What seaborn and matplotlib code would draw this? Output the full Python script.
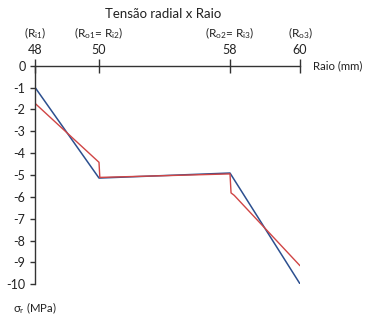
import numpy as np
import matplotlib
matplotlib.use("Agg")
import matplotlib.pyplot as plt
import seaborn as sns

# Data
raio_blue = [48, 50, 58, 60]
sigma_blue = [-0.99, -5.14, -4.91, -9.98]
raio_red = [48, 50, 50.05, 58, 58.03, 58.12, 60]
sigma_red = [-1.72, -4.42, -5.11, -4.95, -5.82, -5.93, -9.15]
xticks = [48, 50, 58, 60]
xtick_top = [r"(R$_{\rm i1}$)", r"(R$_{\rm o1}$= R$_{\rm i2}$)", r"(R$_{\rm o2}$= R$_{\rm i3}$)", r"(R$_{\rm o3}$)"]
yticks = list(range(0, -11, -1))

sns.set_theme(style="white")
plt.rcParams["font.family"] = ["Lato", "DejaVu Sans"]
plt.rcParams["mathtext.fontset"] = "custom"
plt.rcParams["mathtext.rm"] = "Lato"
plt.rcParams["mathtext.it"] = "Lato:italic"

W, H = 369, 324
fig = plt.figure(figsize=(W / 100, H / 100), dpi=100)
left, right = 35, 300
top, bottom = 65.7, 284.3
ax = fig.add_axes([left / W, 1 - bottom / H, (right - left) / W, (bottom - top) / H])

# piecewise-linear axis scale (as in the original chart)
xs_k = np.array([48.0, 50.0, 58.0, 60.0])
ps_k = np.array([0.0, 64.0, 195.0, 265.0])

def fwd(x):
    x = np.asarray(x, dtype=float)
    y = np.interp(x, xs_k, ps_k)
    lo = x < xs_k[0]
    hi = x > xs_k[-1]
    y = np.where(lo, ps_k[0] + (x - xs_k[0]) * (ps_k[1] - ps_k[0]) / (xs_k[1] - xs_k[0]), y)
    y = np.where(hi, ps_k[-1] + (x - xs_k[-1]) * (ps_k[-1] - ps_k[-2]) / (xs_k[-1] - xs_k[-2]), y)
    return y

def inv(p):
    p = np.asarray(p, dtype=float)
    y = np.interp(p, ps_k, xs_k)
    lo = p < ps_k[0]
    hi = p > ps_k[-1]
    y = np.where(lo, xs_k[0] + (p - ps_k[0]) * (xs_k[1] - xs_k[0]) / (ps_k[1] - ps_k[0]), y)
    y = np.where(hi, xs_k[-1] + (p - ps_k[-1]) * (xs_k[-1] - xs_k[-2]) / (ps_k[-1] - ps_k[-2]), y)
    return y

ax.set_xscale("function", functions=(fwd, inv))

sns.lineplot(x=raio_blue, y=sigma_blue, estimator=None, sort=False, color="#2C4F8F", lw=1.1, ax=ax)
sns.lineplot(x=raio_red, y=sigma_red, estimator=None, sort=False, color="#D04545", lw=1.0, ax=ax)

ax.set_xlim(48, 60)
ax.set_ylim(-10, 0)
ax.set_facecolor("none")

for s in ["bottom", "right"]:
    ax.spines[s].set_visible(False)
for s in ["top", "left"]:
    ax.spines[s].set_visible(True)
    ax.spines[s].set_color("#333333")
    ax.spines[s].set_linewidth(1.0)

ax.xaxis.set_ticks_position("top")
ax.set_xticks(xticks)
ax.set_xticklabels([str(t) for t in xticks], fontsize=9, color="#222222")
ax.xaxis.set_minor_locator(matplotlib.ticker.NullLocator())
ax.tick_params(axis="x", which="major", direction="inout", length=9.5, width=1.0, color="#333333", pad=2.5, top=True, bottom=False)
ax.set_yticks(yticks)
ax.set_yticklabels([str(t) for t in yticks], fontsize=9, color="#222222")
ax.tick_params(axis="y", direction="out", length=3.8, width=1.0, color="#333333", pad=3, left=True)

for xv, lab in zip(xticks, xtick_top):
    ax.annotate(lab, xy=(xv, 1), xycoords=("data", "axes fraction"), xytext=(0, 32.5),
                textcoords="offset pixels", ha="center", va="center", fontsize=8.5, color="#222222")

fig.text(163 / W, 1 - 14 / H, "Tensão radial x Raio", ha="center", va="center", fontsize=9.5, color="#222222")
fig.text(313 / W, 1 - 66 / H, "Raio (mm)", ha="left", va="center", fontsize=8.2, color="#222222")
fig.text(13 / W, 1 - 308 / H, r"σ$_{\rm r}$ (MPa)", ha="left", va="center", fontsize=8.2, color="#222222")

ax.grid(False)
fig.savefig("out.png", dpi=100)
